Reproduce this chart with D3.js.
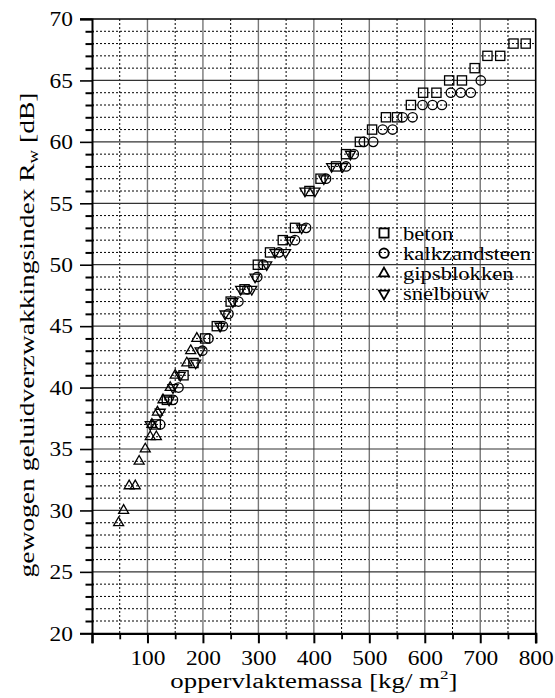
<!DOCTYPE html>
<html><head><meta charset="utf-8">
<script src="https://cdn.jsdelivr.net/npm/d3@7"></script>
<style>
html,body{margin:0;padding:0;background:#fff;}
svg text{font-family:"Liberation Serif",serif;fill:#000;}
</style></head>
<body><svg id="c" width="555" height="698"></svg>
<script>
// ---- data ----
const xTickValues = [100, 200, 300, 400, 500, 600, 700, 800];
const yTickValues = [20, 25, 30, 35, 40, 45, 50, 55, 60, 65, 70];
const legendLabels = ["beton", "kalkzandsteen", "gipsblokken", "snelbouw"];

const betonMass = [115, 135, 165, 183, 204, 225, 250, 275, 299, 321, 344, 366, 392, 412, 440, 458, 483, 505, 530, 550, 575, 597, 621, 644, 667, 690, 713, 736, 760, 782];
const betonR    = [37, 39, 41, 42, 44, 45, 47, 48, 50, 51, 52, 53, 56, 57, 58, 59, 60, 61, 62, 62, 63, 64, 64, 65, 65, 66, 67, 67, 68, 68];

const kalkMass = [123, 146, 156, 199, 210, 236, 246, 264, 280, 298, 309, 337, 366, 386, 422, 458, 472, 490, 507, 524, 542, 560, 578, 596, 614, 631, 647, 665, 683, 701];
const kalkR    = [37, 39, 40, 43, 44, 45, 46, 47, 48, 49, 50, 51, 52, 53, 57, 58, 59, 60, 60, 61, 61, 62, 62, 63, 63, 63, 64, 64, 64, 65];

const gipsMass = [48, 57, 67, 78, 85, 96, 105, 116, 108, 118, 128, 141, 150, 171, 178, 189];
const gipsR    = [29, 30, 32, 32, 34, 35, 36, 36, 37, 38, 39, 40, 41, 42, 43, 44];

const snelMass = [105, 123, 139, 146, 159, 187, 195, 231, 240, 254, 268, 288, 294, 315, 330, 349, 357, 378, 384, 402, 418, 432, 452, 466];
const snelR    = [37, 38, 39, 40, 41, 42, 43, 45, 46, 47, 48, 48, 49, 50, 51, 51, 52, 53, 56, 56, 57, 58, 58, 59];

// ---- layout ----
const L = 92, R = 535.7, T = 19, B = 633.3;
const svg = d3.select("#c");
const x = d3.scaleLinear().domain([0, 800]).range([L, R]);
const y = d3.scaleLinear().domain([20, 70]).range([B, T]);

function stretch(sel, f) {
  sel.each(function () {
    const n = this.getComputedTextLength();
    if (n > 0) d3.select(this).attr("textLength", n * f).attr("lengthAdjust", "spacingAndGlyphs");
  });
}

// minor grid
const g = svg.append("g");
g.selectAll(".vminor").data(d3.range(50, 800, 100)).join("line")
  .attr("x1", d => x(d)).attr("x2", d => x(d)).attr("y1", T).attr("y2", B)
  .attr("stroke", "#000").attr("stroke-width", 1).attr("stroke-dasharray", "2,2");
g.selectAll(".hminor").data(d3.range(21, 70).filter(v => v % 5 !== 0)).join("line")
  .attr("x1", L).attr("x2", R).attr("y1", d => y(d)).attr("y2", d => y(d))
  .attr("stroke", "#000").attr("stroke-width", 1).attr("stroke-dasharray", "2,2");
// major grid
g.selectAll(".vmajor").data(xTickValues.slice(0, -1)).join("line")
  .attr("x1", d => x(d)).attr("x2", d => x(d)).attr("y1", T).attr("y2", B)
  .attr("stroke", "#777").attr("stroke-width", 1.4);
g.selectAll(".hmajor").data(yTickValues.slice(1, -1)).join("line")
  .attr("x1", L).attr("x2", R).attr("y1", d => y(d)).attr("y2", d => y(d))
  .attr("stroke", "#333").attr("stroke-width", 1.2);

// frame
svg.append("line").attr("x1", L - 12).attr("x2", R).attr("y1", T).attr("y2", T).attr("stroke", "#000").attr("stroke-width", 1.6);
svg.append("line").attr("x1", R).attr("x2", R).attr("y1", T).attr("y2", B + 10).attr("stroke", "#000").attr("stroke-width", 1.6);

// y axis
const yAxis = d3.axisLeft(y).tickValues(yTickValues).tickSize(12).tickPadding(6).tickFormat(d3.format("d"));
const ya = svg.append("g").attr("transform", `translate(${L},0)`).call(yAxis);
ya.select(".domain").attr("stroke-width", 2);
ya.selectAll(".tick line").attr("stroke-width", 1.6);
ya.selectAll(".tick text").attr("font-size", 20).attr("font-family", "Liberation Serif").attr("dy", "0.34em").attr("x", -19);
stretch(ya.selectAll(".tick text"), 1.17);
// y minor ticks
const yMinor = d3.axisLeft(y).tickValues(d3.range(21, 70).filter(v => v % 5 !== 0)).tickSize(8).tickFormat("");
const ym = svg.append("g").attr("transform", `translate(${L + 1.5},0)`).call(yMinor);
ym.select(".domain").remove();
ym.selectAll(".tick line").attr("stroke-width", 2);

// x axis
const xAxis = d3.axisBottom(x).tickValues([0].concat(xTickValues)).tickSize(10).tickPadding(8)
  .tickFormat(d => d === 0 ? "" : d);
const xa = svg.append("g").attr("transform", `translate(0,${B})`).call(xAxis);
xa.select(".domain").attr("stroke-width", 2.2);
xa.selectAll(".tick line").attr("stroke-width", 2);
xa.selectAll(".tick text").attr("font-size", 20).attr("font-family", "Liberation Serif").attr("dy", 0).attr("y", 31.3);
stretch(xa.selectAll(".tick text"), 1.17);
const xMinor = d3.axisBottom(x).tickValues(d3.range(50, 800, 100)).tickSize(6).tickFormat("");
const xm = svg.append("g").attr("transform", `translate(0,${B})`).call(xMinor);
xm.select(".domain").remove();
xm.selectAll(".tick line").attr("stroke-width", 1.8);

// axis titles
const xt = svg.append("text").attr("x", (L + R) / 2).attr("y", 688.3).attr("text-anchor", "middle")
  .attr("font-size", 20.5).attr("textLength", 287).attr("lengthAdjust", "spacingAndGlyphs");
xt.append("tspan").text("oppervlaktemassa [kg/ m");
xt.append("tspan").attr("font-size", 13).attr("dy", -9).text("2");
xt.append("tspan").attr("dy", 9).text("]");

const yt = svg.append("text").attr("transform", `translate(34,335) rotate(-90)`).attr("text-anchor", "middle")
  .attr("font-size", 22).attr("textLength", 485).attr("lengthAdjust", "spacingAndGlyphs");
yt.append("tspan").text("gewogen geluidverzwakkingsindex R");
yt.append("tspan").attr("font-size", 15).attr("dy", 4).text("w");
yt.append("tspan").attr("dy", -4).text(" [dB]");

// markers
const series = [
  {name: legendLabels[0], mass: betonMass, r: betonR, type: "square"},
  {name: legendLabels[1], mass: kalkMass, r: kalkR, type: "circle"},
  {name: legendLabels[2], mass: gipsMass, r: gipsR, type: "tri"},
  {name: legendLabels[3], mass: snelMass, r: snelR, type: "nabla"}
];
function marker(sel, type) {
  if (type === "square") {
    sel.append("rect").attr("x", -4.6).attr("y", -4.6).attr("width", 9.2).attr("height", 9.2);
  } else if (type === "circle") {
    sel.append("circle").attr("r", 4.7);
  } else if (type === "tri") {
    const s = 10, h = s * Math.sqrt(3) / 2;
    sel.append("path").attr("d", `M0,${-2 * h / 3}L${s / 2},${h / 3}L${-s / 2},${h / 3}Z`);
  } else {
    const s = 10, h = s * Math.sqrt(3) / 2;
    sel.append("path").attr("d", `M0,${2 * h / 3}L${s / 2},${-h / 3}L${-s / 2},${-h / 3}Z`);
  }
  sel.selectAll("*").attr("fill", "none").attr("stroke", "#000").attr("stroke-width", 1.3);
}
series.forEach(s => {
  const pts = s.mass.map((m, i) => ({m, r: s.r[i]}));
  const gg = svg.append("g");
  pts.forEach(p => {
    const mk = gg.append("g").attr("transform", `translate(${x(p.m)},${y(p.r)})`);
    marker(mk, s.type);
  });
});

// legend
series.forEach((s, i) => {
  const by = 239.5 + i * 20.2;
  const mk = svg.append("g").attr("transform", `translate(384,${by - 6.5})`);
  marker(mk, s.type);
  mk.selectAll("*").attr("stroke-width", 1.8);
  const t = svg.append("text").attr("x", 403).attr("y", by).attr("font-size", 19.5).text(s.name);
  stretch(t, 1.16);
});
</script></body></html>
